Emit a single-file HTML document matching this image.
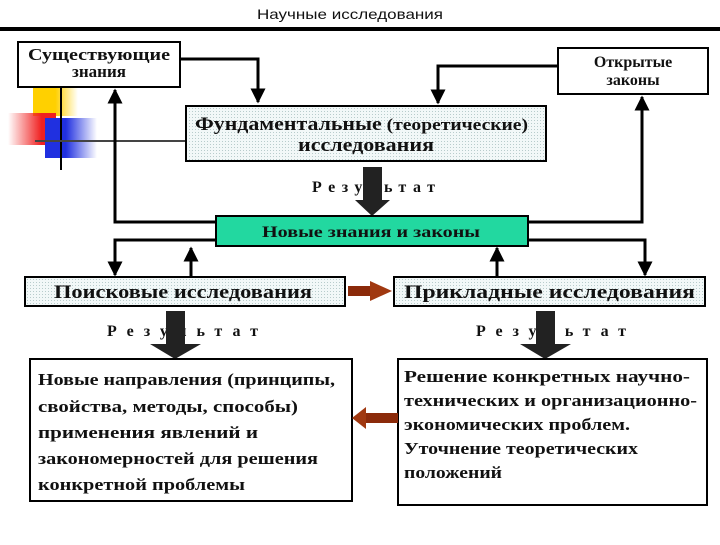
<!DOCTYPE html>
<html><head><meta charset="utf-8"><style>
body{margin:0;background:#fff;}
svg text{font-family:"Liberation Serif",serif;font-weight:bold;fill:#111;}
</style></head><body>
<svg width="720" height="540" viewBox="0 0 720 540" xmlns="http://www.w3.org/2000/svg">
<defs>
<pattern id="dots" width="3" height="3" patternUnits="userSpaceOnUse"><rect width="3" height="3" fill="#f2f8f8"/><rect width="1" height="1" fill="#b8cccc"/></pattern>
<marker id="ah" viewBox="0 0 10 10" refX="9" refY="5" markerWidth="5" markerHeight="5" orient="auto"><path d="M0,0L10,5L0,10z" fill="#000"/></marker>
<linearGradient id="gy" x1="0" x2="1"><stop offset="0.5" stop-color="#ffd000"/><stop offset="1" stop-color="#ffd000" stop-opacity="0"/></linearGradient>
<linearGradient id="gr" x1="1" x2="0"><stop offset="0.3" stop-color="#f02020"/><stop offset="1" stop-color="#f02020" stop-opacity="0"/></linearGradient>
<linearGradient id="gb" x1="0" x2="1"><stop offset="0.4" stop-color="#2030e0"/><stop offset="1" stop-color="#2030e0" stop-opacity="0"/></linearGradient>
</defs>
<text x="257" y="19" font-size="14" textLength="186" lengthAdjust="spacingAndGlyphs" style="font-family:'Liberation Sans',sans-serif;font-weight:normal">Научные исследования</text>
<rect x="0" y="27" width="720" height="4" fill="#000"/>
<rect x="33" y="88" width="45" height="28" fill="url(#gy)"/>
<rect x="8" y="113" width="48" height="32" fill="url(#gr)"/>
<rect x="45" y="118" width="52" height="40" fill="url(#gb)"/>
<line x1="61" y1="88" x2="61" y2="170" stroke="#000" stroke-width="2"/>
<line x1="35" y1="141" x2="186" y2="141" stroke="#444" stroke-width="2"/>
<rect x="18" y="42" width="162" height="45" fill="#fff" stroke="#000" stroke-width="2"/>
<text x="28" y="60" font-size="17" textLength="142" lengthAdjust="spacingAndGlyphs">Существующие</text>
<text x="99" y="77" font-size="17" text-anchor="middle">знания</text>
<rect x="558" y="48" width="150" height="46" fill="#fff" stroke="#000" stroke-width="2"/>
<text x="633" y="67" font-size="16" text-anchor="middle">Открытые</text>
<text x="633" y="85" font-size="16" text-anchor="middle">законы</text>
<rect x="186" y="106" width="360" height="55" fill="url(#dots)" stroke="#000" stroke-width="2"/>
<text x="195" y="130" font-size="17" textLength="333" lengthAdjust="spacingAndGlyphs"><tspan font-size="19">Фундаментальные</tspan> (теоретические)</text>
<text x="298" y="151" font-size="19" textLength="136" lengthAdjust="spacingAndGlyphs">исследования</text>
<polyline points="180,59 258,59 258,102" fill="none" stroke="#000" stroke-width="3" marker-end="url(#ah)"/>
<polyline points="558,66 438,66 438,103" fill="none" stroke="#000" stroke-width="3" marker-end="url(#ah)"/>
<polyline points="216,222 115,222 115,90" fill="none" stroke="#000" stroke-width="3" marker-end="url(#ah)"/>
<polyline points="528,222 642,222 642,97" fill="none" stroke="#000" stroke-width="3" marker-end="url(#ah)"/>
<text x="312" y="192" font-size="16" textLength="123" lengthAdjust="spacing">Результат</text>
<rect x="363" y="167" width="19" height="34" fill="#222"/>
<polygon points="355,200 390,200 372,216" fill="#222"/>
<rect x="216" y="216" width="312" height="30" fill="#22d8a0" stroke="#000" stroke-width="2"/>
<text x="262" y="237" font-size="16" textLength="218" lengthAdjust="spacingAndGlyphs">Новые знания и законы</text>
<polyline points="216,240 115,240 115,275" fill="none" stroke="#000" stroke-width="3" marker-end="url(#ah)"/>
<polyline points="528,240 645,240 645,275" fill="none" stroke="#000" stroke-width="3" marker-end="url(#ah)"/>
<line x1="191" y1="277" x2="191" y2="248" stroke="#000" stroke-width="3" marker-end="url(#ah)"/>
<line x1="497" y1="277" x2="497" y2="248" stroke="#000" stroke-width="3" marker-end="url(#ah)"/>
<rect x="25" y="277" width="320" height="29" fill="url(#dots)" stroke="#000" stroke-width="2"/>
<text x="54" y="298" font-size="19" textLength="258" lengthAdjust="spacingAndGlyphs">Поисковые  исследования</text>
<rect x="394" y="277" width="311" height="29" fill="url(#dots)" stroke="#000" stroke-width="2"/>
<text x="404" y="298" font-size="19" textLength="291" lengthAdjust="spacingAndGlyphs">Прикладные  исследования</text>
<rect x="348" y="286" width="23" height="10" fill="#8b2a0a"/>
<polygon points="370,281 392,291 370,301" fill="#a03810"/>
<text x="107" y="336" font-size="16" textLength="151" lengthAdjust="spacing">Результат</text>
<rect x="166" y="311" width="19" height="34" fill="#222"/>
<polygon points="150,344 201,344 175,359" fill="#222"/>
<text x="476" y="336" font-size="16" textLength="150" lengthAdjust="spacing">Результат</text>
<rect x="536" y="311" width="19" height="34" fill="#222"/>
<polygon points="520,344 571,344 545,359" fill="#222"/>
<rect x="30" y="359" width="322" height="142" fill="#fff" stroke="#000" stroke-width="2"/>
<g font-size="17">
<text x="38" y="385" textLength="297" lengthAdjust="spacingAndGlyphs">Новые направления (принципы,</text>
<text x="38" y="412" textLength="260" lengthAdjust="spacingAndGlyphs">свойства,  методы, способы)</text>
<text x="38" y="438" textLength="220" lengthAdjust="spacingAndGlyphs">применения  явлений и</text>
<text x="38" y="464" textLength="280" lengthAdjust="spacingAndGlyphs">закономерностей для решения</text>
<text x="38" y="490" textLength="207" lengthAdjust="spacingAndGlyphs">конкретной проблемы</text>
</g>
<rect x="398" y="359" width="309" height="146" fill="#fff" stroke="#000" stroke-width="2"/>
<g font-size="17">
<text x="404" y="382" textLength="286" lengthAdjust="spacingAndGlyphs">Решение конкретных  научно-</text>
<text x="404" y="406" textLength="293" lengthAdjust="spacingAndGlyphs">технических и организационно-</text>
<text x="404" y="430" textLength="226" lengthAdjust="spacingAndGlyphs">экономических проблем.</text>
<text x="404" y="454" textLength="234" lengthAdjust="spacingAndGlyphs">Уточнение теоретических</text>
<text x="404" y="478" textLength="98" lengthAdjust="spacingAndGlyphs">положений</text>
</g>
<rect x="365" y="413" width="33" height="10" fill="#8b2a0a"/>
<polygon points="366,407 352,418 366,429" fill="#a03810"/>
</svg>
</body></html>
